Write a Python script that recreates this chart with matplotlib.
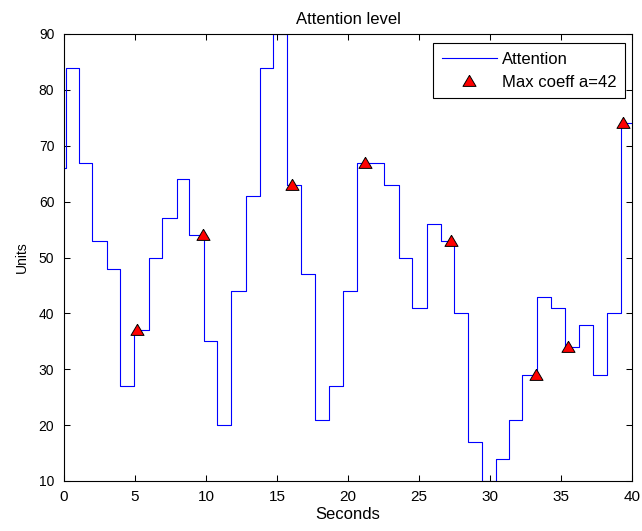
import matplotlib
matplotlib.use("Agg")
import matplotlib.pyplot as plt

plt.rcParams['font.family'] = ['Liberation Sans', 'DejaVu Sans']

# Attention samples (time in seconds, level in units)
times = [0.09, 0.11, 1.08, 1.99, 3.05, 3.94, 4.95, 5.99, 6.88, 7.93,
         8.83, 9.84, 10.75, 11.76, 12.80, 13.80, 14.74, 15.73, 16.67, 17.68,
         18.68, 19.67, 20.63, 21.60, 22.56, 23.60, 24.53, 25.54, 26.55, 27.46,
         28.47, 29.41, 30.40, 31.34, 32.28, 33.29, 34.30, 35.30, 36.25, 37.23,
         38.26, 39.20, 40.0]
attention = [66, 84, 67, 53, 48, 27, 37, 50, 57, 64,
             54, 35, 20, 44, 61, 84, 90, 63, 47, 21,
             27, 44, 67, 67, 63, 50, 41, 56, 53, 40,
             17, 10, 14, 21, 29, 43, 41, 34, 38, 29,
             40, 74, 74]

# Maxima of the coefficient (a = 42)
max_t = [5.12, 9.76, 16.03, 21.2, 27.25, 33.26, 35.5, 39.34]
max_v = [37, 54, 63, 67, 53, 29, 34, 74]

x_ticks = [0, 5, 10, 15, 20, 25, 30, 35, 40]
y_ticks = [10, 20, 30, 40, 50, 60, 70, 80, 90]

fig = plt.figure(figsize=(6.42, 5.31), dpi=100)
ax = fig.add_axes([64 / 642, 1 - 481 / 531, 568 / 642, 447 / 531])

ax.step(times, attention, where='post', color='#0000ff', linewidth=0.8,
        label='Attention')

tri = [(0, 0.95), (-1, -0.75), (1, -0.75), (0, 0.95)]
ax.plot(max_t, max_v, linestyle='none', marker=tri, markersize=9.4,
        markerfacecolor='#ff0000', markeredgecolor='black',
        markeredgewidth=0.7, label='Max coeff a=42')

ax.set_xlim(0, 40)
ax.set_ylim(10, 90)
ax.set_xticks(x_ticks)
ax.set_yticks(y_ticks)
ax.tick_params(direction='in', length=4, width=0.75,
               top=True, right=True, colors='black')
ax.tick_params(axis='x', labelsize=11, pad=6.5)
ax.tick_params(axis='y', labelsize=10, pad=7)
for sp in ax.spines.values():
    sp.set_linewidth(0.8)
    sp.set_color('black')

ax.set_title('Attention level', fontsize=12, pad=7.5)
ax.set_xlabel('Seconds', fontsize=12, labelpad=2)
ax.set_ylabel('Units', fontsize=10, labelpad=7)

leg = ax.legend(loc='upper right', bbox_to_anchor=(561 / 568, (481 - 42.7) / 447),
                borderaxespad=0, fancybox=False, framealpha=1, fontsize=12,
                handlelength=3.3, handletextpad=0.3, labelspacing=0.48,
                borderpad=0.53)
leg.get_frame().set_edgecolor('black')
leg.get_frame().set_linewidth(0.8)

fig.savefig('out.png', dpi=100)
